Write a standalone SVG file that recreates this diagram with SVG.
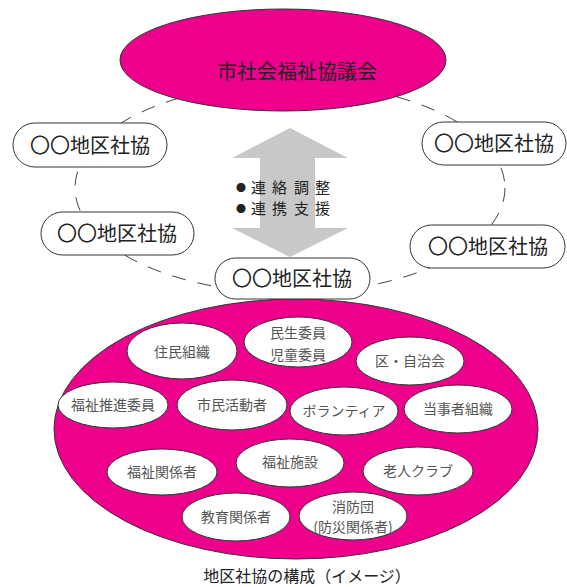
<svg xmlns="http://www.w3.org/2000/svg" width="567" height="587" viewBox="0 0 567 587">
<defs>
<style>
.mag{fill:#EC008C;stroke:#333;stroke-width:1}
.node rect{fill:#fff;stroke:#333;stroke-width:1}
.node text{font-family:"Noto Sans CJK JP","Noto Sans",sans-serif;font-size:20px;fill:#222;text-anchor:middle}
.mem ellipse{fill:#fff;stroke:#333;stroke-width:1}
.mem text{font-family:"Noto Sans CJK JP","Noto Sans",sans-serif;font-size:14px;fill:#555;text-anchor:middle}
.dash{fill:none;stroke:#444;stroke-width:1;stroke-dasharray:14 12}
.t{font-family:"Noto Sans CJK JP","Noto Sans",sans-serif;fill:#222}
</style>
</defs>
<rect width="567" height="587" fill="#fff"/>
<g id="connectors">
<ellipse class="dash" cx="290" cy="188" rx="215" ry="105"/>
<polygon points="290,128 348,158 315,158 315,228 348,228 290,257 232,228 260,228 260,158 232,158" fill="#c8c8c8"/>
<text class="t" font-size="15" y="193"><tspan x="236" font-size="10" dy="-1">●</tspan><tspan x="251" dy="1">連</tspan><tspan x="272">絡</tspan><tspan x="294">調</tspan><tspan x="315">整</tspan></text>
<text class="t" font-size="15" y="214"><tspan x="236" font-size="10" dy="-1">●</tspan><tspan x="251" dy="1">連</tspan><tspan x="272">携</tspan><tspan x="294">支</tspan><tspan x="315">援</tspan></text>
</g>
<g id="city">
<ellipse class="mag" cx="283" cy="60" rx="163" ry="51"/>
<text class="t" x="297" y="79" font-size="20" text-anchor="middle">市社会福祉協議会</text>
</g>
<g id="node-lt" class="node"><rect x="13" y="123" width="154" height="44" rx="22"/><text x="90" y="153">〇〇地区社協</text></g>
<g id="node-lb" class="node"><rect x="41" y="212" width="153" height="43" rx="21.5"/><text x="117" y="241">〇〇地区社協</text></g>
<g id="node-rt" class="node"><rect x="422" y="122" width="144" height="43" rx="21.5"/><text x="494" y="151">〇〇地区社協</text></g>
<g id="node-rb" class="node"><rect x="410" y="225" width="155" height="43" rx="21.5"/><text x="488" y="254">〇〇地区社協</text></g>
<g id="structure">
<ellipse class="mag" cx="296" cy="429" rx="242" ry="130"/>
</g>
<g id="node-c" class="node"><rect x="215" y="258" width="155" height="41" rx="20.5"/><text x="292" y="286">〇〇地区社協</text></g>
<g id="m1" class="mem"><ellipse cx="182" cy="351" rx="55" ry="28"/><text x="182" y="357">住民組織</text></g>
<g id="m2" class="mem"><ellipse cx="298" cy="342" rx="54" ry="25"/><text x="298" y="338">民生委員</text><text x="298" y="360">児童委員</text></g>
<g id="m3" class="mem"><ellipse cx="410" cy="361" rx="54" ry="24"/><text x="410" y="366">区・自治会</text></g>
<g id="m4" class="mem"><ellipse cx="113" cy="405" rx="55" ry="23"/><text x="113" y="410">福祉推進委員</text></g>
<g id="m5" class="mem"><ellipse cx="232" cy="405" rx="55" ry="25"/><text x="232" y="410">市民活動者</text></g>
<g id="m6" class="mem"><ellipse cx="344" cy="411" rx="54" ry="24"/><text x="344" y="416">ボランティア</text></g>
<g id="m7" class="mem"><ellipse cx="458" cy="409" rx="54" ry="24"/><text x="458" y="414">当事者組織</text></g>
<g id="m8" class="mem"><ellipse cx="162" cy="472" rx="55" ry="23"/><text x="162" y="477">福祉関係者</text></g>
<g id="m9" class="mem"><ellipse cx="290" cy="463" rx="54" ry="24"/><text x="290" y="467">福祉施設</text></g>
<g id="m10" class="mem"><ellipse cx="418" cy="471" rx="55" ry="24"/><text x="418" y="476">老人クラブ</text></g>
<g id="m11" class="mem"><ellipse cx="236" cy="517" rx="54" ry="24"/><text x="236" y="522">教育関係者</text></g>
<g id="m12" class="mem"><ellipse cx="353" cy="516" rx="54" ry="24"/><text x="353" y="512">消防団</text><text x="353" y="532">(防災関係者)</text></g>
<text class="t" x="307" y="582" font-size="16" text-anchor="middle">地区社協の構成（イメージ）</text>
</svg>
